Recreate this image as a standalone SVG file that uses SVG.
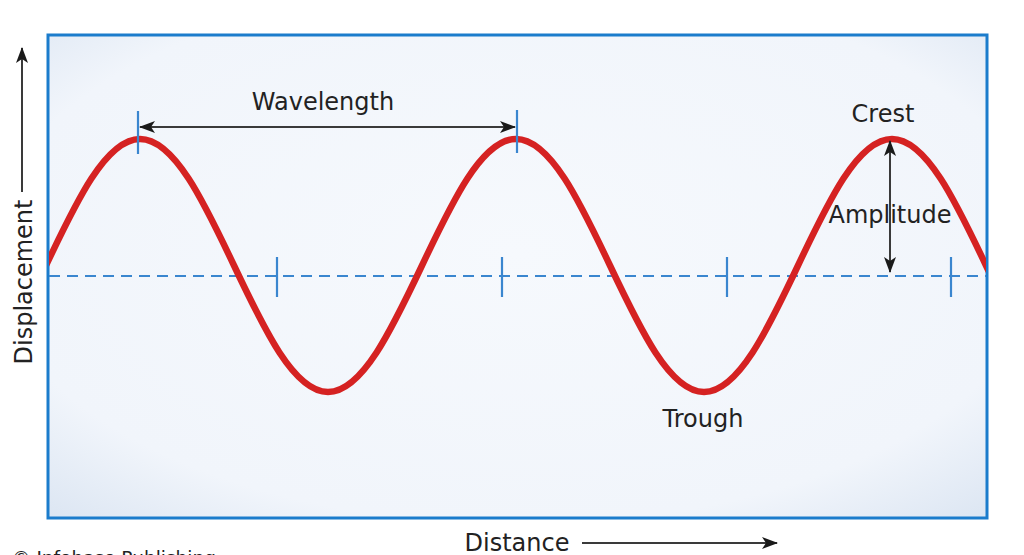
<svg xmlns="http://www.w3.org/2000/svg" width="1024" height="555" viewBox="0 0 1024 555">
<style>
.lbl{font-family:"DejaVu Sans","Open Sans","Liberation Sans",sans-serif;font-size:24px;fill:#222;}
.small{font-family:"DejaVu Sans","Open Sans","Liberation Sans",sans-serif;font-size:18.5px;fill:#222;}
.tick{stroke:#3a86cf;stroke-width:2.2;}
.arr{stroke:#3a3a3a;stroke-width:2;fill:none;}
</style>
<defs>
<radialGradient id="bg" cx="0.5" cy="0.45" r="0.75">
<stop offset="0" stop-color="#f6f9fd"/>
<stop offset="0.75" stop-color="#f1f5fb"/>
<stop offset="1" stop-color="#dbe5f2"/>
</radialGradient>
<clipPath id="box"><rect x="49" y="36" width="937" height="481"/></clipPath>
<marker id="ah" viewBox="0 0 16 12" refX="15" refY="6" markerWidth="16" markerHeight="12" markerUnits="userSpaceOnUse" orient="auto-start-reverse">
<path d="M0 0 L16 6 L0 12 L4 6 Z" fill="#1a1a1a"/>
</marker>
</defs>
<rect width="1024" height="555" fill="#ffffff"/>
<g id="frame">
<rect x="48" y="35" width="939" height="483" fill="url(#bg)" stroke="#1b7ccc" stroke-width="3"/>
</g>
<g id="baseline">
<line x1="49" y1="276" x2="986" y2="276" stroke="#3a86cf" stroke-width="1.8" stroke-dasharray="11 7"/>
<line class="tick" x1="277" y1="257" x2="277" y2="297"/>
<line class="tick" x1="502" y1="257" x2="502" y2="297"/>
<line class="tick" x1="727" y1="257" x2="727" y2="297"/>
<line class="tick" x1="951" y1="257" x2="951" y2="297"/>
</g>
<g id="wave" clip-path="url(#box)">
<path d="M -48 392 C 20.3 392, 71.7 139, 140 139 C 208.3 139, 259.7 392, 328 392 C 396.3 392, 447.7 139, 516 139 C 584.3 139, 635.7 392, 704 392 C 772.3 392, 823.7 139, 892 139 C 960.3 139, 1011.7 392, 1080 392" fill="none" stroke="#d52222" stroke-width="6.5"/>
</g>
<g id="peak-ticks">
<line class="tick" x1="138" y1="111" x2="138" y2="154"/>
<line class="tick" x1="517" y1="110" x2="517" y2="153"/>
</g>
<g id="connectors">
<line class="arr" x1="140" y1="127" x2="515" y2="127" marker-start="url(#ah)" marker-end="url(#ah)"/>
<line class="arr" x1="890" y1="141" x2="890" y2="272" marker-start="url(#ah)" marker-end="url(#ah)"/>
<line class="arr" x1="22" y1="192" x2="22" y2="48" marker-end="url(#ah)"/>
<line class="arr" x1="582" y1="543" x2="777" y2="543" marker-end="url(#ah)"/>
</g>
<g id="labels">
<text class="lbl" x="323" y="110" text-anchor="middle">Wavelength</text>
<text class="lbl" x="883" y="122" text-anchor="middle">Crest</text>
<text class="lbl" x="890" y="223" text-anchor="middle">Amplitude</text>
<text class="lbl" x="703" y="427" text-anchor="middle">Trough</text>
<text class="lbl" x="517" y="551" text-anchor="middle">Distance</text>
<text class="lbl" transform="translate(32 282) rotate(-90)" text-anchor="middle">Displacement</text>
<text class="small" x="12" y="564">© Infobase Publishing</text>
</g>
</svg>
